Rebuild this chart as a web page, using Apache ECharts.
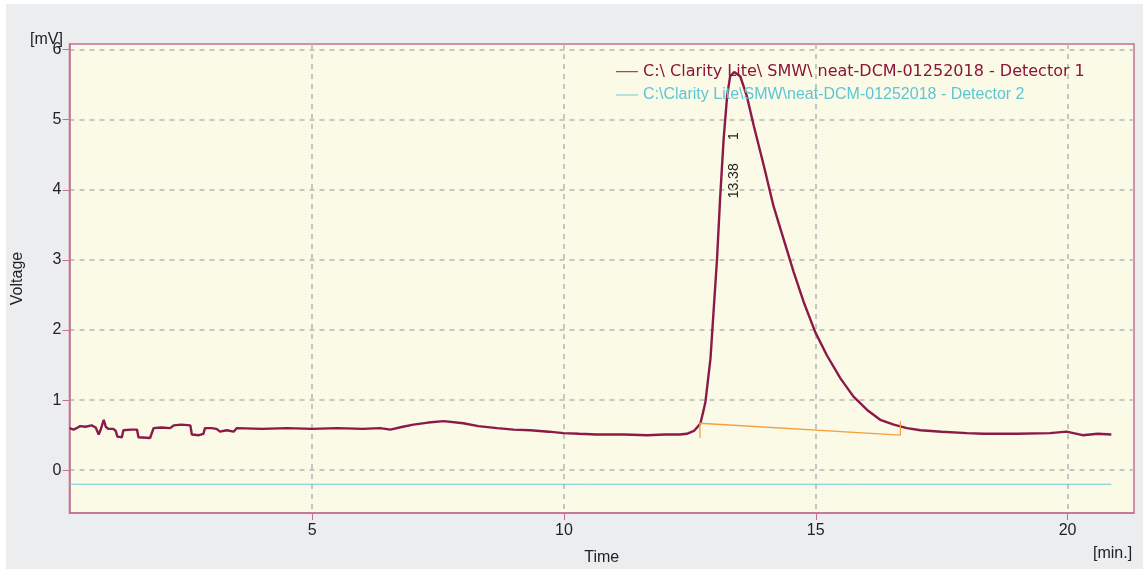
<!DOCTYPE html>
<html>
<head>
<meta charset="utf-8">
<script src="https://cdn.jsdelivr.net/npm/echarts@6/dist/echarts.min.js"></script>
<style>
  html, body { margin: 0; padding: 0; background: #ffffff; }
  #chart { width: 1143px; height: 571px; }
</style>
</head>
<body>
<div id="chart"></div>
<script>
// Axis ticks
const xTicks = [5, 10, 15, 20];
const yTicks = [0, 1, 2, 3, 4, 5, 6];

// Detector 1 trace: time [min.] and voltage [mV]
const det1Time = [
  0.18, 0.26, 0.32, 0.39, 0.50, 0.62, 0.70, 0.76, 0.80, 0.86, 0.90, 0.95,
  1.05, 1.10, 1.13, 1.22, 1.25, 1.40, 1.52, 1.55, 1.78, 1.85, 2.00, 2.18,
  2.25, 2.40, 2.58, 2.61, 2.75, 2.84, 2.87, 3.00, 3.10, 3.17, 3.30, 3.44,
  3.50, 4.00, 4.50, 5.00, 5.50, 6.00, 6.35, 6.55, 6.80, 7.01, 7.30, 7.61,
  8.00, 8.30, 8.67, 9.00, 9.33, 9.70, 9.99, 10.30, 10.65, 11.20, 11.65, 12.00,
  12.30, 12.44, 12.58, 12.68, 12.71, 12.77, 12.81, 12.91, 12.97, 13.04, 13.10, 13.17,
  13.24, 13.30, 13.38, 13.50, 13.63, 13.77, 13.97, 14.16, 14.36, 14.56, 14.76, 14.99,
  15.22, 15.49, 15.75, 16.02, 16.28, 16.55, 16.81, 17.08, 17.50, 18.00, 18.33, 19.00,
  19.65, 19.98, 20.30, 20.60, 20.87
];
const det1Volt = [
  0.60, 0.58, 0.60, 0.63, 0.62, 0.64, 0.61, 0.51, 0.58, 0.72, 0.62, 0.59,
  0.59, 0.56, 0.48, 0.47, 0.57, 0.58, 0.58, 0.47, 0.46, 0.60, 0.61, 0.60,
  0.64, 0.65, 0.64, 0.51, 0.50, 0.52, 0.60, 0.60, 0.59, 0.55, 0.57, 0.55,
  0.60, 0.59, 0.60, 0.59, 0.60, 0.59, 0.60, 0.58, 0.62, 0.65, 0.68, 0.70,
  0.67, 0.63, 0.60, 0.58, 0.57, 0.55, 0.53, 0.52, 0.51, 0.51, 0.50, 0.51,
  0.51, 0.52, 0.56, 0.64, 0.67, 0.85, 0.98, 1.60, 2.26, 3.02, 3.87, 4.72,
  5.34, 5.62, 5.68, 5.62, 5.34, 4.91, 4.34, 3.77, 3.30, 2.83, 2.40, 1.97,
  1.64, 1.31, 1.05, 0.86, 0.72, 0.65, 0.60, 0.57, 0.55, 0.53, 0.52, 0.52,
  0.53, 0.55, 0.50, 0.52, 0.51
];

// Detector 2 trace
const det2Time = [0.18, 20.87];
const det2Volt = [-0.2, -0.2];

// Integration baseline of peak 1 with its start / end markers
const baseTime = [12.70, 12.70, 16.68, 16.68];
const baseVolt = [0.46, 0.67, 0.50, 0.70];

// Peak annotation
const peakTime = 13.38;
const peakId = '1';

const seriesNames = [
  'C:\\ Clarity Lite\\ SMW\\ neat-DCM-01252018 - Detector 1',
  'C:\\Clarity Lite\\SMW\\neat-DCM-01252018 - Detector 2'
];

const pair = (xs, ys) => xs.map((x, i) => [x, ys[i]]);

const frameColor = '#c27096';
const textColor = '#222222';
const gridLine = { show: true, lineStyle: { color: '#b5b5b5', type: [5, 5], width: 1.5 } };
// thin horizontal bar used as the legend swatch
const legendLine = 'path://M0,0H44V2H0Z';

const chart = echarts.init(document.getElementById('chart'));
chart.setOption({
  animation: false,
  backgroundColor: '#ffffff',
  textStyle: { fontFamily: 'Liberation Sans' },
  graphic: [
    { type: 'rect', left: 6, top: 4, z: -10, silent: true,
      shape: { width: 1137, height: 565 }, style: { fill: '#ebedef' } },
    { type: 'text', left: 30, top: 32, silent: true,
      style: { text: '[mV]', font: '16px "Liberation Sans"', fill: textColor } },
    { type: 'text', left: 1093, top: 546, silent: true,
      style: { text: '[min.]', font: '16px "Liberation Sans"', fill: textColor } }
  ],
  grid: {
    left: 69.5, right: 9, top: 44, bottom: 56,
    show: true, backgroundColor: '#fafae6', borderColor: frameColor, borderWidth: 1.5
  },
  legend: {
    orient: 'vertical', left: 616, top: 63.7, padding: 0,
    itemWidth: 22, itemHeight: 16, itemGap: 7.3,
    selectedMode: false,
    icon: legendLine,
    textStyle: { fontSize: 16, fontFamily: 'Liberation Sans' },
    data: [
      { name: seriesNames[0], itemStyle: { color: '#8b1a48' },
        textStyle: { color: '#8b1538', fontFamily: 'DejaVu Sans', fontSize: 16 } },
      { name: seriesNames[1], itemStyle: { color: '#6fcad8' },
        textStyle: { color: '#5ec5d6' } }
    ]
  },
  xAxis: {
    type: 'value', min: 0.18, max: 21.32,
    name: 'Time', nameLocation: 'middle', nameGap: 37,
    nameTextStyle: { fontSize: 16, color: textColor },
    axisLine: { show: true, onZero: false, lineStyle: { color: frameColor, width: 1.5 } },
    axisTick: { show: true, customValues: xTicks, length: 7, lineStyle: { color: frameColor } },
    axisLabel: { customValues: xTicks, fontSize: 16, color: textColor, margin: 10 },
    splitLine: gridLine
  },
  yAxis: {
    type: 'value', min: -0.61, max: 6.08,
    name: 'Voltage', nameLocation: 'middle', nameGap: 44,
    nameTextStyle: { fontSize: 16, color: textColor },
    axisLine: { show: true, onZero: false, lineStyle: { color: frameColor, width: 1.5 } },
    axisTick: { show: true, customValues: yTicks, length: 7, lineStyle: { color: frameColor } },
    axisLabel: { customValues: yTicks, fontSize: 16, color: textColor, margin: 8 },
    splitLine: gridLine
  },
  series: [
    {
      name: seriesNames[0], type: 'line', symbol: 'none', z: 3,
      data: pair(det1Time, det1Volt),
      lineStyle: { color: '#8b1a48', width: 2.4 },
      itemStyle: { color: '#8b1a48' },
      markPoint: {
        symbol: 'circle', symbolSize: 0, silent: true,
        data: [{
          coord: [peakTime, 4.35],
          label: {
            show: true, position: 'inside', rotate: 90,
            formatter: peakTime.toFixed(2) + '      ' + peakId,
            fontSize: 14, color: textColor, fontFamily: 'Liberation Sans'
          }
        }]
      }
    },
    {
      name: seriesNames[1], type: 'line', symbol: 'none', z: 2,
      data: pair(det2Time, det2Volt),
      lineStyle: { color: '#6fcad8', width: 1 },
      itemStyle: { color: '#6fcad8' }
    },
    {
      name: 'baseline', type: 'line', symbol: 'none', z: 4,
      data: pair(baseTime, baseVolt),
      lineStyle: { color: '#f5a040', width: 1.3 },
      itemStyle: { color: '#f5a040' }
    }
  ]
});
</script>
</body>
</html>
